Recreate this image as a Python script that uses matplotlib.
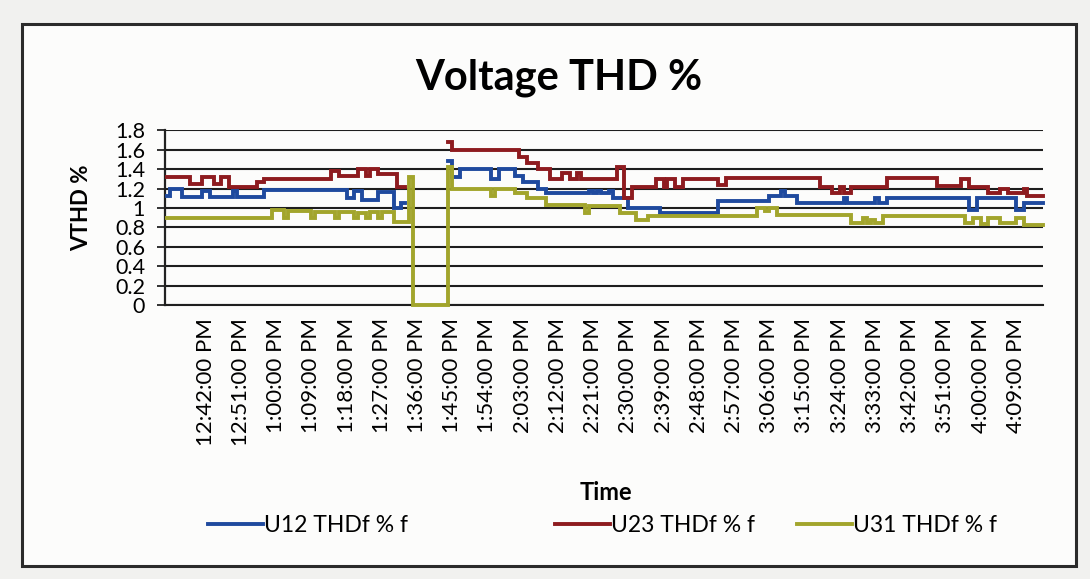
import numpy as np
import matplotlib
matplotlib.use("Agg")
import matplotlib.pyplot as plt
from matplotlib.patches import Rectangle

plt.rcParams['font.family'] = ['Lato', 'DejaVu Sans']

# step data: start minute (minutes after 12:00 PM) and value held until next start
u12_start = [32, 33, 36, 41, 43, 49, 50, 57, 78, 80, 82, 86, 90, 92, 93,
             104, 105, 107, 115, 117, 121, 123, 127, 129, 140, 141, 142, 143, 145,
             146, 150, 158, 173, 186, 189, 190, 193, 205, 206, 213, 214, 216,
             237, 239, 249, 251, 256]
u12_vals = [1.12, 1.20, 1.11, 1.18, 1.11, 1.17, 1.11, 1.19, 1.10, 1.18, 1.08, 1.16, 1.00, 1.05, np.nan,
            1.48, 1.32, 1.40, 1.30, 1.40, 1.33, 1.27, 1.20, 1.15, 1.18, 1.15, 1.18, 1.15, 1.18,
            1.10, 1.00, 0.95, 1.07, 1.12, 1.17, 1.12, 1.05, 1.10, 1.05, 1.10, 1.05, 1.10,
            0.98, 1.10, 0.98, 1.05, 1.05]

u23_start = [32, 38, 41, 44, 46, 48, 55, 57, 74, 76, 81, 83, 84, 86, 91, 93,
             104, 105, 122, 124, 127, 130, 133, 135, 137, 138, 147, 149, 151, 157,
             159, 160, 162, 164, 173, 175, 199, 202, 204, 205, 207, 216, 229, 235,
             237, 242, 245, 247, 251, 252, 256]
u23_vals = [1.32, 1.25, 1.32, 1.25, 1.32, 1.22, 1.27, 1.30, 1.38, 1.33, 1.40, 1.33, 1.40, 1.35, 1.22, np.nan,
            1.68, 1.60, 1.52, 1.46, 1.40, 1.30, 1.36, 1.30, 1.36, 1.30, 1.42, 1.10, 1.22, 1.30,
            1.22, 1.30, 1.22, 1.30, 1.24, 1.31, 1.22, 1.15, 1.22, 1.15, 1.22, 1.31, 1.23, 1.30,
            1.22, 1.15, 1.20, 1.15, 1.20, 1.12, 1.12]

u31_start = [32, 59, 62, 63, 69, 70, 75, 76, 80, 81, 83, 84, 86, 87, 90, 94, 95,
             104, 105, 115, 116, 121, 124, 129, 139, 140, 148, 152, 155, 183, 185,
             186, 188, 207, 210, 211, 212, 213, 215, 236, 238, 240, 242, 245, 249,
             251, 256]
u31_vals = [0.90, 0.98, 0.90, 0.97, 0.90, 0.96, 0.90, 0.96, 0.90, 0.95, 0.90, 0.96, 0.90, 0.96, 0.86, 1.32, 0.00,
            1.42, 1.20, 1.12, 1.20, 1.15, 1.10, 1.03, 0.95, 1.02, 0.95, 0.88, 0.92, 1.00, 0.97,
            1.00, 0.93, 0.85, 0.90, 0.85, 0.88, 0.85, 0.92, 0.85, 0.90, 0.84, 0.90, 0.85, 0.90,
            0.82, 0.82]

series_names = ['U12 THDf % f', 'U23 THDf % f', 'U31 THDf % f']
series_colors = ['#1f4a9e', '#8e1b1f', '#a2a52c']

# category labels shown every 9th minute
tick_minutes = [42, 51, 60, 69, 78, 87, 96, 105, 114, 123, 132, 141,
                150, 159, 168, 177, 186, 195, 204, 213, 222, 231, 240, 249]
tick_labels = ['12:42:00 PM', '12:51:00 PM', '1:00:00 PM', '1:09:00 PM', '1:18:00 PM',
               '1:27:00 PM', '1:36:00 PM', '1:45:00 PM', '1:54:00 PM', '2:03:00 PM',
               '2:12:00 PM', '2:21:00 PM', '2:30:00 PM', '2:39:00 PM', '2:48:00 PM',
               '2:57:00 PM', '3:06:00 PM', '3:15:00 PM', '3:24:00 PM', '3:33:00 PM',
               '3:42:00 PM', '3:51:00 PM', '4:00:00 PM', '4:09:00 PM']

fig = plt.figure(figsize=(10.9, 5.79), dpi=100)
fig.patch.set_facecolor('#f1f1ef')

# chart border
fig.add_artist(Rectangle((0.020, 0.022), 0.967, 0.936, transform=fig.transFigure,
                         facecolor='#fcfcfb', edgecolor='#2b2b2b', linewidth=2.2, zorder=0))

ax = fig.add_axes([0.151, 0.473, 0.806, 0.302])
ax.set_facecolor('none')

handles = []
for xs, ys, name, col in zip([u12_start, u23_start, u31_start],
                             [u12_vals, u23_vals, u31_vals],
                             series_names, series_colors):
    h, = ax.plot(xs, ys, drawstyle='steps-post', color=col, lw=2.8,
                 solid_joinstyle='miter', clip_on=False, label=name, zorder=3)
    handles.append(h)

ax.set_xlim(31.5, 256)
ax.set_ylim(0, 1.8)
ax.set_yticks(np.arange(0, 1.81, 0.2))
ax.set_yticklabels(['0', '0.2', '0.4', '0.6', '0.8', '1', '1.2', '1.4', '1.6', '1.8'],
                   fontsize=15.5, color='black')
ax.set_xticks(tick_minutes)
ax.set_xticklabels(tick_labels, rotation=90, fontsize=16, color='black')
ax.tick_params(axis='x', length=0, pad=9)
ax.tick_params(axis='y', length=6, width=1.3, color='#222222', pad=8)

ax.grid(axis='y', color='#1e1e1e', lw=1.5)
ax.set_axisbelow(True)
for s in ['top', 'right']:
    ax.spines[s].set_visible(False)
ax.spines['left'].set_linewidth(1.6)
ax.spines['left'].set_color('#222222')
ax.spines['bottom'].set_linewidth(1.5)
ax.spines['bottom'].set_color('#1e1e1e')

fig.text(0.513, 0.866, 'Voltage THD %', ha='center', va='center',
         fontsize=30, fontweight='bold', color='black')
fig.text(0.075, 0.642, 'VTHD %', ha='center', va='center', rotation=90,
         fontsize=16, fontweight='bold', color='black')
fig.text(0.556, 0.150, 'Time', ha='center', va='center',
         fontsize=17, fontweight='bold', color='black')

for h, x0 in zip(handles, [0.191, 0.509, 0.731]):
    fig.legend(handles=[h], loc='center left', bbox_to_anchor=(x0, 0.093),
               frameon=False, fontsize=16.5, handlelength=2.4, handletextpad=0.05,
               borderpad=0, borderaxespad=0, labelcolor='black')

fig.savefig('out.png', dpi=100, facecolor=fig.get_facecolor())
